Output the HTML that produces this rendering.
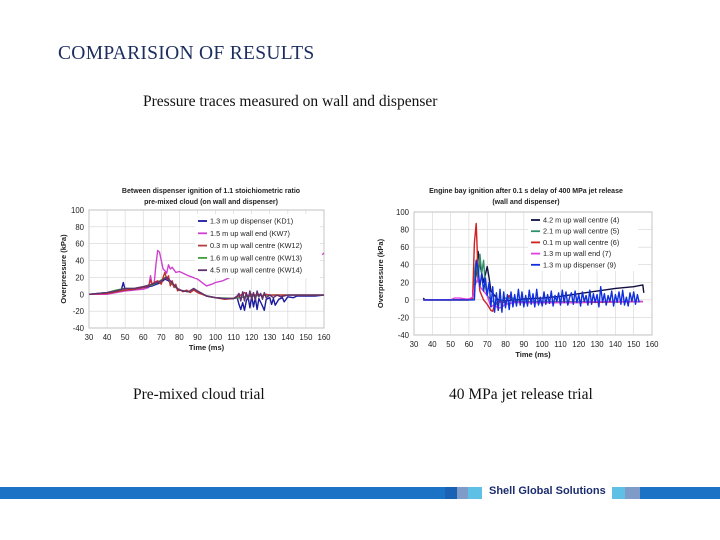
<!DOCTYPE html>
<html><head><meta charset="utf-8"><style>
body{margin:0;width:720px;height:540px;background:#fff;overflow:hidden;position:relative;font-family:"Liberation Serif",serif}
.t{position:absolute;white-space:nowrap}
</style></head><body>
<div class="t" style="left:58px;top:43px;font-size:19.5px;color:#1c2d5e;letter-spacing:0.3px">COMPARISION OF RESULTS</div>
<div class="t" style="left:143px;top:93px;font-size:15.5px;color:#111">Pressure traces measured on wall and dispenser</div>
<div class="t" style="left:133px;top:386px;font-size:15.5px;color:#111">Pre-mixed cloud trial</div>
<div class="t" style="left:449px;top:386px;font-size:15.5px;color:#111">40 MPa jet release trial</div>
<svg id="s" width="720" height="540" style="position:absolute;left:0;top:0" font-family="Liberation Sans, sans-serif"></svg>
<div style="position:absolute;left:0;top:487px;width:720px;height:12px;background:#1c72c4">
<div style="position:absolute;left:445px;width:12px;height:12px;background:#1a62b4"></div>
<div style="position:absolute;left:457px;width:11px;height:12px;background:#7f9cc8"></div>
<div style="position:absolute;left:468px;width:14px;height:12px;background:#5fc0e6"></div>
<div style="position:absolute;left:482px;width:130px;height:12px;background:#fff"></div>
<div style="position:absolute;left:612px;width:13px;height:12px;background:#5fc0e6"></div>
<div style="position:absolute;left:625px;width:15px;height:12px;background:#7f9cc8"></div>
<div class="t" style="left:489px;top:-2px;font-family:'Liberation Sans',sans-serif;font-weight:bold;font-size:11px;color:#1c2d6e">Shell Global Solutions</div>
</div>
<script>
const xTicks=[30,40,50,60,70,80,90,100,110,120,130,140,150,160];
const yTicks=[100,80,60,40,20,0,-20,-40];
const L_KD1=[[30,0],[35,1],[40,2],[45,4],[48,6],[49,14],[50,5],[55,6],[60,8],[65,10],[70,14],[72,18],[74,16],[76,12],[78,8],[80,5],[85,3],[88,6],[90,3],[95,-2],[100,-4],[105,-5],[110,-5],[112,-4],[113,-12],[114,-18],[115,-10],[116,-19],[117,-8],[118,-3],[119,-16],[120,-2],[121,-15],[122,-4],[123,-18],[124,-5],[126,-14],[127,-19],[128,-6],[130,-4],[131,-12],[132,-5],[133,-13],[135,-6],[137,-4],[138,-9],[140,-3],[143,-4],[145,-2],[150,-2],[155,-2],[160,-1]];
const L_KW7=[[30,0],[40,0],[45,2],[50,4],[55,5],[60,6],[63,8],[64,22],[65,10],[66,12],[67,35],[68,52],[69,50],[70,40],[71,30],[72,28],[73,25],[74,35],[75,30],[76,32],[78,26],[80,27],[85,22],[90,18],[95,10],[98,12],[100,14],[104,16],[107,19],[108,20]];
const L_KW7_END=[[159,47],[160,49]];
const L_KW12=[[30,0],[40,1],[45,3],[50,5],[55,6],[60,8],[63,10],[64,17],[65,12],[66,14],[68,16],[70,12],[71,20],[72,26],[73,18],[74,22],[75,10],[76,16],[77,8],[78,12],[79,4],[80,6],[82,3],[84,5],[86,2],[88,5],[90,2],[95,-2],[100,-4],[105,-6],[110,-5],[112,-3],[114,-1],[116,2],[118,-2],[120,0],[122,-1],[124,0],[126,-2],[128,0],[130,-1],[140,-1],[150,-1],[160,-1]];
const L_KW13=[[30,0],[40,2],[45,5],[50,7],[55,7],[60,9],[65,11],[68,14],[70,17],[72,20],[74,18],[76,12],[78,8],[80,5],[85,3],[88,6],[90,3],[95,-2],[100,-4],[110,-5],[120,-2],[130,-1],[160,-1]];
const L_KW14=[[30,0],[40,2],[45,4],[50,7],[55,7],[60,9],[65,12],[70,16],[73,20],[75,16],[78,9],[80,5],[85,3],[88,7],[90,4],[95,-2],[100,-4],[105,-5],[110,-5],[112,-2],[113,1],[114,-8],[115,3],[116,-8],[117,2],[118,-6],[119,4],[120,-6],[121,2],[122,-7],[123,4],[124,-3],[125,1],[126,-6],[127,2],[128,-4],[130,-1],[132,-4],[134,-1],[136,-3],[140,-1],[150,-1],[160,-1]];
const R_4=[[35,2],[36,0],[40,0],[50,0],[60,0],[62,1],[64,30],[65,55],[66,40],[68,20],[70,38],[71,25],[72,10],[74,5],[76,0],[80,-1],[85,0],[90,1],[100,2],[110,4],[120,7],[130,10],[140,13],[150,15],[155,17],[155.5,8]];
const R_5=[[35,0],[60,0],[62,1],[63,30],[64,45],[65,20],[66,52],[67,30],[68,45],[69,15],[70,5],[72,0],[75,-5],[80,2],[84,2],[85,0],[90,-2],[100,-2],[120,-2],[155,-2]];
const R_6=[[35,0],[60,0],[62,2],[63,65],[64,87],[65,30],[66,10],[67,5],[68,0],[70,-5],[72,-12],[73,-13],[74,-5],[76,-2],[80,-3],[82,5],[84,-2],[90,-3],[100,-3],[120,-3],[155,-2]];
const R_7=[[35,0],[50,0],[52,2],[55,2],[58,1],[60,1],[62,3],[63,15],[64,20],[65,25],[66,15],[68,10],[70,5],[72,-8],[74,-5],[76,-10],[78,-8],[80,-5],[85,-3],[90,-3],[100,-3],[110,-3],[120,-3],[130,-2],[140,-2],[155,-2]];
const R_9_T0=35;
const R_9=[0,0,0,0,0,0,0,0,0,0,0,0,0,0,0,0,0,0,0,0,0,0,0,0,0,0,0,0,0,45,35,15,30,10,25,5,20,-8,15,-14,8,-12,12,-14,9,-9,6,-11,9,-8,6,-7,12,-6,9,-8,5,-7,11,-5,7,-8,12,-6,3,-7,9,-5,6,-4,10,-7,5,-2,8,-6,11,-3,9,-6,3,8,-5,10,-3,6,-7,9,-2,5,-6,11,-5,7,-3,6,-8,15,-3,7,-6,5,-2,10,-7,6,-3,9,-5,11,-6,3,-7,8,-2,9,-5,6,-3];
const S=document.getElementById('s');const NS='http://www.w3.org/2000/svg';
function el(t,a,txt){const e=document.createElementNS(NS,t);for(const k in a)e.setAttribute(k,a[k]);if(txt!==undefined)e.textContent=txt;S.appendChild(e);return e;}
function chart(c){
 const sx=v=>c.x0+(v-30)*(c.x1-c.x0)/130, sy=v=>c.y0+(100-v)*(c.y1-c.y0)/140;
 const f=el('rect',{x:sx(30),y:sy(100),width:sx(160)-sx(30),height:sy(-40)-sy(100),fill:'#fff',stroke:'#999','stroke-width':0.8});
 
 xTicks.forEach(t=>{el('line',{x1:sx(t),x2:sx(t),y1:sy(100),y2:sy(-40),stroke:'#d4d4d4','stroke-width':0.6});
  const tx=el('text',{x:sx(t),y:sy(-40)+12,'font-size':7.8,'text-anchor':'middle',fill:'#222'},t);
  });
 yTicks.forEach(t=>{el('line',{x1:sx(30),x2:sx(160),y1:sy(t),y2:sy(t),stroke:'#d4d4d4','stroke-width':0.6});
  const tx=el('text',{x:sx(30)-5,y:sy(t)+3,'font-size':7.8,'text-anchor':'end',fill:'#222'},t);
  });
 c.series.forEach(s=>{const p=el('polyline',{points:s.d.map(q=>sx(q[0]).toFixed(1)+','+sy(q[1]).toFixed(1)).join(' '),fill:'none',stroke:s.c,'stroke-width':1.4,'stroke-linejoin':'round'});
  });
 const t1=el('text',{x:c.tx,y:c.ty,'font-size':7,'font-weight':'bold','text-anchor':'middle',fill:'#222'},c.t1);
 
 el('text',{x:c.tx,y:c.ty+11,'font-size':7,'font-weight':'bold','text-anchor':'middle',fill:'#222'},c.t2);
 const xt=el('text',{x:(sx(30)+sx(160))/2,y:sy(-40)+22,'font-size':7.5,'font-weight':'bold','text-anchor':'middle',fill:'#222'},'Time (ms)');
 
 const cy=(sy(100)+sy(-40))/2;
 const yt=el('text',{x:c.yx,y:cy,'font-size':7.5,'font-weight':'bold','text-anchor':'middle',fill:'#222',transform:'rotate(-90 '+c.yx+' '+cy+')'},'Overpressure (kPa)');
 
 const lg=el('rect',{x:c.lx,y:c.ly,width:c.lw,height:c.lh,fill:'#fff'});
 
 c.legend.forEach((s,i)=>{const y=c.ly+7+i*c.ls;
  el('line',{x1:c.lx+3,x2:c.lx+12,y1:y,y2:y,stroke:s.c,'stroke-width':1.8});
  const lt=el('text',{x:c.lx+15,y:y+2.5,'font-size':7.3,fill:'#222'},s.l);
  });
}
const r9=R_9.map((v,i)=>[R_9_T0+i,v]);
chart({id:'left',x0:89,x1:324,y0:210,y1:328,tx:211,ty:193,yx:66,t1:'Between dispenser ignition of 1.1 stoichiometric ratio',t2:'pre-mixed cloud (on wall and dispenser)',lx:195,ly:214,lw:125,lh:64,ls:12.3,
 series:[{d:L_KW7,c:'#d040d0',n:'series-kw7'},{d:L_KW7_END,c:'#d040d0',n:'series-kw7-end'},{d:L_KD1,c:'#1a1aa0',n:'series-kd1'},{d:L_KW13,c:'#40a040',n:'series-kw13'},{d:L_KW12,c:'#c03030',n:'series-kw12'},{d:L_KW14,c:'#603070',n:'series-kw14'}],
 legend:[{c:'#1a1aa0',l:'1.3 m up dispenser (KD1)'},{c:'#d040d0',l:'1.5 m up wall end (KW7)'},{c:'#b04040',l:'0.3 m up wall centre (KW12)'},{c:'#40a040',l:'1.6 m up wall centre (KW13)'},{c:'#603070',l:'4.5 m up wall centre (KW14)'}]});
chart({id:'right',x0:414,x1:652,y0:212,y1:335,tx:526,ty:193,yx:383,t1:'Engine bay ignition after 0.1 s delay of 400 MPa jet release',t2:'(wall and dispenser)',lx:528,ly:213,lw:110,lh:58,ls:11.2,
 series:[{d:R_4,c:'#101040',n:'series-4'},{d:R_5,c:'#30906a',n:'series-5'},{d:R_6,c:'#d02020',n:'series-6'},{d:R_7,c:'#e040e0',n:'series-7'},{d:r9,c:'#1030e0',n:'series-9'}],
 legend:[{c:'#101040',l:'4.2 m up wall centre (4)'},{c:'#30906a',l:'2.1 m up wall centre (5)'},{c:'#d02020',l:'0.1 m up wall centre (6)'},{c:'#e040e0',l:'1.3 m up wall end (7)'},{c:'#1030e0',l:'1.3 m up dispenser (9)'}]});
</script>
</body></html>
